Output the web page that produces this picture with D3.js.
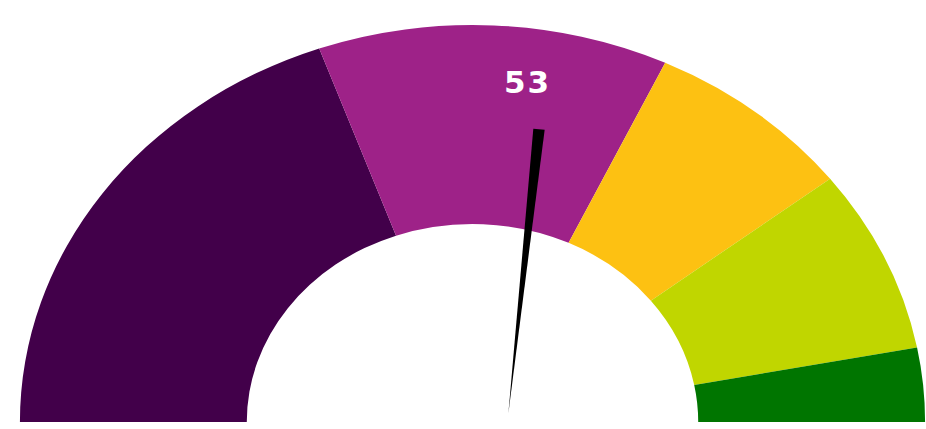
<!DOCTYPE html>
<html>
<head>
<meta charset="utf-8">
<script src="https://cdn.jsdelivr.net/npm/d3@7/dist/d3.min.js"></script>
<style>
    html, body { margin: 0; padding: 0; background: #fff; }
    #chart-gauge { width: 926px; height: 429px; }
</style>
</head>
<body>
<div id="chart-gauge"></div>
<script>
(function () {

    var VALUE       = 53;
    var DOMAIN      = [0, 100];
    var THRESHOLDS  = [0, 39, 64, 79, 94, 100];
    var BAND_COLORS = ["#42004a", "#9e2288", "#fdc112", "#c0d600", "#007500"];

    /* ── layout ───────────────────────────────────────────────────── */
    var W = 926, H = 429;
    var cx = 472.5, cy = 422;
    var outerR = 397, innerR = 198;
    var stretchX = 1.14;           // the gauge is drawn squashed wider than tall

    var svg = d3.select("#chart-gauge")
        .append("svg")
        .attr("width",  W)
        .attr("height", H);

    var g = svg.append("g")
        .attr("transform", "translate(" + cx + "," + cy + ") scale(" + stretchX + ",1)");

    var angle = d3.scaleLinear()
        .domain(DOMAIN)
        .range([-Math.PI / 2, Math.PI / 2]);

    var arc = d3.arc()
        .innerRadius(innerR)
        .outerRadius(outerR);

    // bands
    var bands = BAND_COLORS.map(function (c, i) {
        return { from: THRESHOLDS[i], to: THRESHOLDS[i + 1], color: c };
    });

    g.selectAll("path.band")
        .data(bands)
        .enter()
        .append("path")
        .attr("class", "band")
        .attr("fill", function (d) { return d.color; })
        .attr("d", function (d) {
            return arc({ startAngle: angle(d.from), endAngle: angle(d.to) });
        });

    /* ── needle ───────────────────────────────────────────────────── */
    var theta   = angle(VALUE);
    var baseX   = 31.5, baseY = -9;   // pointed end sits a bit right of centre
    var len     = 285;
    var halfW   = 5;

    var dir  = [Math.sin(theta), -Math.cos(theta)];
    var perp = [Math.cos(theta),  Math.sin(theta)];
    var tipX = baseX + len * dir[0];
    var tipY = baseY + len * dir[1];

    g.append("path")
        .attr("class", "needle")
        .attr("fill", "#000")
        .attr("d", d3.line()([
            [baseX, baseY],
            [tipX + halfW * perp[0], tipY + halfW * perp[1]],
            [tipX - halfW * perp[0], tipY - halfW * perp[1]]
        ]) + "Z");

    // value label
    svg.append("text")
        .attr("x", cx + 55)
        .attr("y", cy - 329)
        .attr("text-anchor", "middle")
        .style("font-family", "'DejaVu Sans', sans-serif")
        .style("font-weight", "bold")
        .style("font-size", "31px")
        .style("letter-spacing", "2px")
        .style("fill", "#fff")
        .text(VALUE);

}());
</script>
</body>
</html>
